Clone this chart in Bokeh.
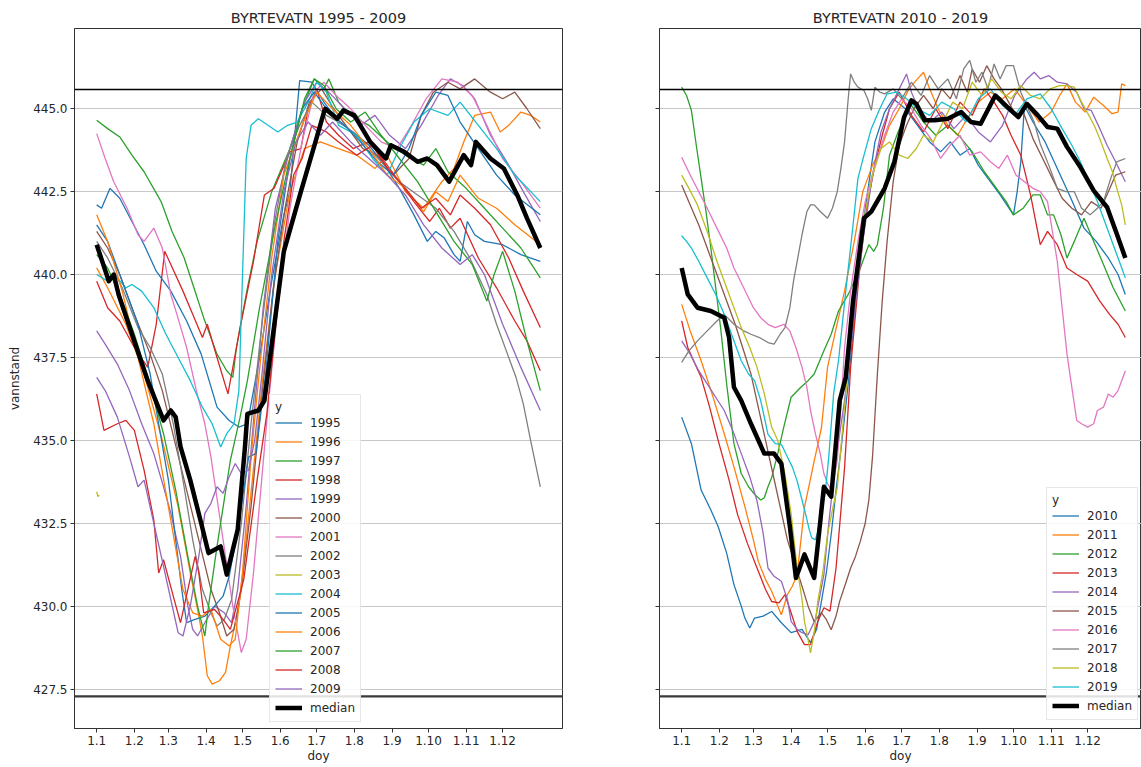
from bokeh.plotting import figure
from bokeh.layouts import row
from bokeh.models import Span, Legend, LegendItem, FixedTicker, Range1d, NumeralTickFormatter
from bokeh.embed import file_html
from bokeh.resources import INLINE

# ---------------- data (day of year, water level) ----------------
month_ticks = [1, 32, 60, 91, 121, 152, 182, 213, 244, 274, 305, 335]
month_labels = ["1.1", "1.2", "1.3", "1.4", "1.5", "1.6", "1.7", "1.8", "1.9", "1.10", "1.11", "1.12"]
y_ticks = [427.5, 430.0, 432.5, 435.0, 437.5, 440.0, 442.5, 445.0]
hrv = 445.58
lrv = 427.28

s1995 = [(1,442.1),(5,442.0),(12,442.6),(20,442.3),(30,441.6),(40,440.9),(50,440.1),(62,439.5),(75,438.6),(87,437.6),(100,436.0),(110,435.6),(118,435.4),(125,435.5),(135,437.5),(145,439.8),(155,441.8),(160,442.5),(164,444.2),(168,445.85),(178,445.8),(188,445.2),(200,444.6),(212,444.3),(225,443.9),(238,443.3),(250,442.6),(262,441.8),(273,441.0),(280,441.3),(287,441.1),(295,440.6),(300,440.4),(306,441.6),(312,441.2),(320,441.0),(335,440.9),(350,440.6),(366,440.4)]
s1996 = [(1,440.2),(10,439.6),(25,438.5),(40,437.0),(55,435.0),(68,433.0),(78,431.0),(84,429.9),(88,429.1),(92,427.9),(96,427.65),(102,427.75),(107,428.0),(111,428.8),(118,430.0),(124,432.0),(131,434.5),(138,437.0),(148,440.0),(160,442.5),(172,443.8),(185,444.0),(200,443.8),(215,443.6),(230,443.2),(240,443.6),(255,442.5),(270,442.0),(285,442.8),(295,443.2),(303,444.0),(312,444.8),(325,444.9),(333,444.3),(340,444.5),(350,444.9),(358,444.8),(366,444.6)]
s1997 = [(1,444.65),(10,444.4),(20,444.15),(30,443.6),(40,443.1),(54,442.2),(63,441.3),(73,440.5),(81,439.6),(89,438.7),(100,437.6),(108,437.1),(113,436.9),(116,437.8),(125,439.6),(133,441.0),(145,442.5),(160,443.8),(170,445.0),(180,445.9),(188,445.6),(192,445.9),(200,445.2),(210,444.8),(225,444.5),(240,444.0),(255,443.6),(270,443.3),(280,443.8),(290,443.1),(305,442.6),(320,442.0),(335,441.4),(350,440.8),(366,439.9)]
s1998 = [(1,439.8),(10,439.0),(20,438.6),(32,437.8),(43,437.2),(50,438.5),(57,440.7),(62,440.3),(72,439.5),(80,438.8),(88,438.1),(92,438.5),(100,437.5),(109,436.4),(112,437.0),(119,438.4),(130,440.4),(139,442.4),(147,442.6),(160,443.7),(169,443.8),(175,445.0),(182,445.6),(190,444.6),(200,444.2),(212,443.8),(225,444.0),(238,443.4),(250,442.8),(262,442.2),(275,441.6),(283,442.0),(292,441.4),(300,441.7),(315,440.5),(330,439.6),(345,438.6),(355,438.0),(366,437.1)]
s1999 = [(1,438.3),(8,437.9),(18,437.3),(28,436.5),(38,435.5),(48,434.6),(56,433.6),(62,432.8),(70,431.5),(76,430.0),(80,429.3),(84,429.1),(90,429.5),(98,430.0),(106,429.8),(112,429.5),(117,430.5),(124,433.0),(131,436.0),(138,439.0),(148,442.0),(160,443.8),(172,445.2),(182,445.8),(192,445.5),(205,445.0),(218,444.5),(230,444.8),(242,444.2),(255,443.8),(268,444.5),(282,445.4),(292,445.9),(302,445.7),(312,445.3),(325,444.2),(340,443.3),(352,442.5),(366,441.6)]
s2000 = [(1,441.3),(10,440.8),(20,440.0),(32,438.8),(45,437.6),(55,436.5),(65,435.0),(75,433.5),(85,432.0),(95,430.5),(102,429.8),(108,429.1),(114,429.3),(120,430.5),(128,433.0),(136,436.0),(146,439.5),(156,442.0),(166,444.0),(176,445.2),(186,445.6),(196,445.0),(208,444.4),(220,443.8),(232,443.6),(245,443.0),(258,443.5),(268,444.8),(278,445.5),(290,445.8),(300,445.6),(312,445.9),(325,445.5),(335,445.3),(345,445.5),(355,445.0),(366,444.4)]
s2001 = [(1,444.25),(8,443.5),(15,442.8),(26,442.0),(35,441.2),(40,441.0),(48,441.4),(55,440.8),(62,439.4),(67,438.8),(75,437.8),(83,436.5),(90,435.5),(95,434.5),(101,433.0),(107,431.5),(113,430.0),(120,428.6),(124,429.0),(130,431.0),(136,433.5),(142,436.0),(150,439.0),(160,442.0),(170,444.0),(180,445.5),(188,445.8),(198,445.4),(210,445.0),(222,444.5),(235,444.0),(248,443.8),(260,444.5),(272,445.3),(285,445.9),(298,445.8),(310,445.4),(322,444.5),(335,443.5),(350,442.8),(366,442.0)]
s2002 = [(1,441.0),(10,440.5),(22,439.6),(35,438.4),(45,437.8),(55,437.0),(64,435.5),(72,433.8),(80,432.0),(88,430.5),(95,429.8),(100,429.4),(106,429.6),(112,430.2),(120,432.5),(128,435.5),(137,438.5),(147,441.5),(157,443.5),(168,444.5),(178,445.2),(190,444.8),(205,444.5),(220,444.0),(235,443.4),(250,442.8),(265,442.4),(280,442.0),(295,441.3),(308,440.5),(322,439.4),(330,438.5),(339,437.6),(346,436.9),(352,436.1),(358,435.0),(366,433.6)]
s2003 = [(1,433.45),(2,433.3),(3,433.35)]
s2004 = [(1,440.0),(10,439.8),(18,439.9),(25,439.6),(30,439.7),(38,439.5),(48,439.0),(58,438.2),(68,437.5),(78,436.8),(88,436.0),(96,435.5),(103,434.8),(108,435.2),(114,435.5),(118,436.5),(121,440.0),(124,443.5),(128,444.5),(134,444.7),(142,444.5),(150,444.3),(158,444.5),(166,444.6),(175,445.2),(182,445.8),(190,445.5),(200,444.5),(215,444.2),(228,443.5),(240,443.0),(250,443.8),(262,444.6),(275,445.0),(290,444.8),(300,445.2),(315,444.5),(330,443.8),(345,443.0),(366,442.2)]
s2005 = [(1,441.5),(10,441.0),(22,439.8),(35,438.5),(45,437.0),(52,435.5),(60,433.8),(66,432.0),(71,430.5),(75,429.5),(82,429.6),(90,429.7),(98,430.0),(105,430.3),(110,430.9),(118,432.5),(126,434.5),(132,434.6),(140,437.0),(150,441.0),(160,443.5),(170,445.0),(180,445.5),(192,444.9),(205,444.5),(218,444.0),(232,443.4),(245,443.0),(258,443.8),(268,444.8),(280,445.5),(290,445.4),(300,444.6),(315,443.8),(330,443.0),(345,442.4),(366,441.8)]
s2006 = [(1,441.8),(10,441.0),(22,439.5),(35,437.5),(48,435.5),(60,433.0),(72,430.5),(80,429.8),(88,429.7),(95,429.9),(103,429.0),(110,428.8),(115,429.0),(121,431.0),(128,434.5),(136,437.5),(145,440.5),(155,443.0),(170,444.5),(182,445.5),(195,445.0),(210,444.5),(225,443.8),(240,443.0),(255,442.6),(270,441.9),(280,442.5),(290,442.2),(300,443.0),(315,442.3),(330,442.0),(345,441.5),(366,440.9)]
s2007 = [(1,440.6),(10,440.2),(20,439.4),(32,438.2),(44,436.8),(56,435.2),(66,433.5),(76,431.5),(84,430.0),(90,429.1),(93,430.0),(100,431.8),(111,434.4),(119,435.7),(125,436.8),(135,439.0),(148,441.5),(160,443.5),(172,445.3),(180,445.9),(188,445.7),(198,445.0),(210,444.6),(222,444.9),(235,444.2),(250,443.5),(265,442.8),(280,441.9),(295,441.0),(310,440.3),(322,439.2),(328,440.0),(335,440.7),(345,439.5),(355,438.0),(366,436.5)]
s2008 = [(1,436.4),(7,435.3),(18,435.5),(25,435.6),(32,435.3),(40,434.1),(48,432.6),(52,431.0),(56,431.4),(64,430.3),(70,429.5),(76,430.5),(82,431.5),(85,431.0),(89,429.8),(98,429.9),(105,429.6),(111,429.3),(122,430.8),(133,433.8),(141,435.8),(147,438.0),(155,441.0),(163,443.0),(170,443.5),(178,444.5),(190,444.3),(200,444.0),(215,443.6),(228,443.9),(240,443.2),(255,442.6),(268,442.0),(280,442.3),(292,441.8),(300,442.4),(312,442.0),(325,441.5),(340,440.5),(352,439.5),(366,438.4)]
s2009 = [(1,436.9),(8,436.5),(18,435.7),(28,434.5),(35,433.6),(40,433.8),(48,432.5),(56,431.2),(62,430.2),(68,429.2),(72,429.1),(78,430.0),(85,431.5),(90,432.8),(95,433.1),(100,433.6),(105,433.4),(110,433.9),(115,434.3),(120,434.0),(126,434.1),(131,435.0),(137,437.0),(145,440.0),(155,442.5),(165,444.0),(175,444.6),(185,444.2),(195,444.6),(210,444.0),(225,443.5),(240,443.0),(255,442.4),(270,441.5),(285,440.8),(300,440.3),(310,440.6),(320,440.0),(335,438.5),(350,437.2),(366,435.9)]
median_1995_2009 = [(1,440.9),(11,439.8),(15,440.0),(19,439.4),(43,436.8),(56,435.6),(62,435.9),(66,435.7),(70,434.8),(78,433.8),(87,432.5),(93,431.6),(103,431.8),(108,430.95),(117,432.3),(123,434.8),(125,435.8),(134,435.9),(139,436.2),(155,440.7),(169,442.5),(181,444.0),(188,444.9),(189,445.0),(199,444.7),(204,444.95),(213,444.8),(226,444.0),(239,443.5),(243,443.9),(254,443.7),(265,443.4),(273,443.5),(281,443.3),(291,442.8),(303,443.6),(309,443.3),(313,444.0),(325,443.5),(336,443.2),(347,442.4),(355,441.7),(366,440.8)]

s2010 = [(1,435.7),(5,435.3),(9,434.9),(17,433.5),(25,432.9),(31,432.4),(38,431.6),(44,430.65),(50,430.0),(53,429.64),(57,429.34),(61,429.64),(68,429.7),(75,429.84),(83,429.5),(91,429.2),(100,429.3),(107,428.9),(112,429.3),(116,430.15),(120,431.0),(124,432.16),(128,433.5),(132,434.7),(138,436.7),(145,439.5),(152,442.0),(160,444.0),(168,444.9),(175,445.3),(185,445.0),(195,444.5),(205,444.0),(214,443.7),(222,444.0),(230,443.6),(238,443.8),(245,443.3),(253,442.9),(263,442.4),(274,441.8),(277,442.5),(280,443.4),(283,445.1),(290,444.6),(300,444.0),(310,443.2),(320,442.4),(332,441.4),(342,441.0),(352,440.5),(360,440.0),(366,439.4)]
s2011 = [(1,439.1),(8,438.3),(17,437.4),(26,436.4),(36,435.2),(44,434.2),(53,433.0),(60,432.0),(64,431.35),(70,430.8),(75,430.45),(83,429.74),(88,430.35),(92,430.6),(96,430.95),(102,432.97),(110,434.37),(116,435.38),(121,437.2),(127,438.2),(135,439.5),(143,441.0),(150,442.5),(158,443.3),(165,443.8),(172,444.5),(180,445.0),(188,445.6),(195,445.9),(200,446.1),(205,445.6),(212,445.0),(220,444.5),(228,444.2),(236,444.7),(245,445.2),(255,445.5),(265,445.3),(275,445.6),(285,445.1),(295,444.6),(305,444.9),(312,445.4),(318,445.75),(325,445.2),(333,444.9),(340,445.35),(348,445.1),(355,444.85),(360,444.9),(363,445.75),(366,445.7)]
s2012 = [(1,445.65),(5,445.4),(9,444.95),(13,443.9),(17,442.9),(21,441.9),(25,440.8),(29,439.6),(33,438.4),(38,436.7),(44,434.9),(50,434.0),(56,433.6),(61,433.37),(66,433.2),(69,433.27),(72,433.6),(75,433.87),(80,434.6),(85,435.4),(91,436.3),(99,436.6),(105,436.8),(110,437.0),(118,437.7),(124,438.2),(130,438.9),(138,439.4),(148,440.2),(155,440.9),(159,440.7),(162,440.9),(167,442.0),(172,443.6),(179,444.3),(186,444.85),(190,445.1),(200,444.6),(210,444.2),(220,444.5),(230,444.15),(240,443.7),(250,443.1),(260,442.6),(268,442.2),(274,441.8),(282,442.0),(290,442.4),(296,442.4),(302,441.8),(307,441.8),(313,441.2),(318,440.5),(324,441.0),(332,441.7),(340,441.0),(348,440.3),(356,439.6),(366,438.9)]
s2013 = [(1,438.6),(6,437.8),(12,437.3),(17,436.9),(24,436.0),(31,435.0),(40,433.8),(47,432.76),(55,431.9),(63,431.15),(70,430.5),(75,430.14),(81,430.1),(86,430.35),(91,429.8),(96,429.24),(102,428.84),(107,428.84),(113,429.54),(118,429.95),(123,429.85),(128,431.15),(135,434.17),(140,437.2),(147,440.0),(153,442.0),(160,443.3),(166,444.2),(172,445.0),(180,445.5),(190,444.8),(200,444.3),(210,445.0),(220,444.4),(230,445.2),(240,444.8),(250,445.6),(258,445.2),(265,444.8),(272,444.2),(280,443.6),(288,442.4),(296,440.9),(302,441.3),(310,440.9),(318,440.2),(326,440.0),(335,439.8),(345,439.2),(353,438.8),(360,438.5),(366,438.1)]
s2014 = [(1,438.0),(8,437.6),(15,437.1),(22,436.7),(29,436.3),(36,435.9),(43,435.3),(50,434.6),(57,433.9),(63,433.17),(68,432.2),(72,431.15),(77,430.9),(83,430.75),(88,430.2),(91,429.54),(96,429.3),(100,429.2),(105,429.14),(111,429.6),(118,430.95),(122,432.5),(127,434.17),(131,435.2),(135,436.2),(142,438.5),(150,441.0),(158,443.0),(165,444.3),(172,445.0),(180,445.6),(186,446.05),(190,445.5),(196,445.0),(205,444.6),(215,444.9),(225,444.4),(235,444.8),(245,444.3),(255,444.0),(265,444.5),(275,445.4),(285,445.9),(291,446.1),(296,445.9),(303,446.0),(310,445.8),(318,445.75),(326,445.5),(332,445.0),(338,444.95),(345,444.4),(351,443.9),(358,443.4),(366,442.8)]
s2015 = [(1,442.7),(8,442.1),(15,441.5),(22,440.8),(30,440.0),(38,439.2),(45,438.5),(52,437.7),(58,437.0),(64,436.0),(70,435.0),(76,434.0),(82,433.0),(88,432.0),(94,431.3),(100,430.6),(105,430.0),(110,429.54),(116,429.8),(120,429.6),(124,429.29),(128,429.7),(131,430.15),(136,430.7),(140,431.15),(144,431.5),(148,431.96),(152,432.5),(155,433.2),(158,434.5),(162,437.0),(166,439.2),(170,441.0),(175,442.8),(180,443.9),(186,444.5),(192,445.0),(200,445.4),(208,445.0),(215,445.6),(222,445.3),(230,446.0),(236,445.5),(240,446.2),(246,445.8),(252,446.3),(258,445.9),(264,445.6),(270,445.2),(276,444.8),(282,444.9),(290,444.1),(298,443.5),(306,442.9),(314,442.3),(322,442.0),(330,441.8),(338,442.2),(346,442.0),(352,442.5),(358,443.0),(366,443.1)]
s2016 = [(1,443.54),(8,443.0),(15,442.5),(22,442.0),(30,441.4),(38,440.8),(44,440.2),(52,439.6),(60,439.0),(66,438.7),(72,438.5),(78,438.4),(85,438.5),(90,438.3),(95,437.8),(100,437.2),(104,436.6),(107,435.9),(111,435.2),(115,434.6),(118,434.0),(121,433.7),(124,433.5),(127,434.0),(129,434.4),(132,436.0),(135,437.8),(140,439.5),(146,441.0),(152,442.2),(160,443.3),(168,444.2),(175,444.9),(182,445.3),(190,445.0),(198,444.5),(206,444.1),(214,443.5),(222,443.9),(230,444.2),(238,443.6),(247,443.7),(255,443.4),(262,443.2),(269,443.6),(276,443.0),(283,442.8),(290,442.6),(296,442.5),(302,442.2),(306,441.3),(310,440.4),(314,439.0),(318,437.6),(322,436.6),(326,435.6),(330,435.5),(335,435.4),(340,435.5),(343,435.9),(348,436.0),(352,436.4),(356,436.3),(360,436.5),(363,436.8),(366,437.1)]
s2017 = [(1,437.35),(7,437.7),(14,438.0),(22,438.3),(30,438.6),(36,438.8),(44,438.5),(52,438.3),(58,438.2),(65,438.1),(72,437.95),(77,437.9),(82,438.2),(86,438.4),(90,439.0),(93,439.8),(96,440.4),(100,441.2),(104,441.9),(107,442.1),(110,442.1),(115,441.9),(121,441.7),(125,442.0),(129,442.5),(132,443.2),(135,444.0),(138,445.3),(140,446.05),(143,445.8),(146,445.65),(151,445.55),(154,445.3),(157,444.95),(160,445.65),(164,445.5),(168,445.45),(175,445.6),(182,445.3),(190,445.8),(198,445.4),(205,446.0),(212,445.6),(220,445.9),(227,445.3),(233,446.2),(238,446.46),(243,445.8),(248,446.1),(253,445.6),(258,446.35),(263,445.9),(268,446.3),(274,446.3),(280,445.5),(286,445.0),(291,444.6),(296,443.94),(303,443.3),(310,442.6),(317,442.5),(324,442.5),(330,442.0),(337,441.8),(343,442.0),(348,442.2),(354,442.9),(359,443.4),(366,443.5)]
s2018 = [(1,443.0),(7,442.6),(14,442.1),(22,441.3),(30,440.4),(40,439.4),(50,438.4),(57,437.8),(63,437.2),(69,436.4),(75,435.4),(80,435.0),(86,433.97),(91,432.8),(96,431.15),(100,430.2),(102,429.54),(105,429.0),(107,428.59),(110,429.2),(113,430.15),(117,431.0),(121,432.16),(125,432.9),(129,433.57),(135,436.0),(142,439.0),(150,441.5),(158,443.0),(165,443.8),(172,444.0),(180,443.6),(187,443.5),(194,443.8),(200,444.2),(208,444.0),(216,444.6),(224,445.2),(232,445.0),(240,445.8),(248,445.4),(256,445.9),(264,445.5),(272,445.3),(280,445.7),(288,445.4),(296,445.3),(304,445.6),(312,445.7),(318,445.7),(324,445.65),(330,445.2),(336,444.8),(341,444.45),(346,444.0),(351,443.5),(355,443.14),(359,442.6),(363,442.1),(366,441.5)]
s2019 = [(1,441.17),(5,441.0),(9,440.8),(15,440.4),(22,439.9),(29,439.4),(36,438.8),(43,438.1),(50,437.4),(56,437.0),(61,436.8),(66,436.2),(72,435.18),(78,434.9),(83,434.88),(88,434.5),(92,434.2),(96,433.77),(100,433.2),(103,432.77),(106,432.3),(108,432.06),(111,432.0),(113,432.26),(116,432.9),(119,433.37),(122,434.5),(126,436.4),(130,437.4),(136,439.5),(142,441.5),(146,442.9),(151,443.6),(157,444.4),(164,445.0),(170,445.45),(178,445.5),(186,445.3),(195,445.0),(205,444.8),(215,445.2),(225,445.0),(235,444.6),(245,445.3),(255,445.6),(265,445.1),(275,444.8),(285,445.3),(296,445.45),(305,445.0),(314,444.4),(322,443.9),(329,443.4),(336,442.8),(343,442.2),(350,441.5),(357,440.8),(362,440.3),(366,439.9)]
median_2010_2019 = [(1,440.2),(6,439.4),(14,439.0),(25,438.9),(36,438.7),(40,438.1),(44,436.6),(50,436.2),(58,435.5),(69,434.6),(77,434.6),(83,434.3),(90,432.4),(95,430.85),(102,431.56),(110,430.85),(114,432.2),(118,433.6),(124,433.3),(131,436.2),(136,436.9),(142,439.2),(151,441.7),(157,441.9),(168,442.6),(176,443.4),(184,444.75),(190,445.25),(194,445.15),(201,444.65),(209,444.65),(220,444.7),(231,444.9),(239,444.6),(247,444.55),(259,445.4),(269,445.05),(278,444.75),(285,445.15),(294,444.8),(302,444.45),(310,444.4),(318,443.85),(329,443.24),(340,442.53),(351,442.03),(359,441.22),(366,440.5)]

left_years = ["1995","1996","1997","1998","1999","2000","2001","2002","2003","2004","2005","2006","2007","2008","2009"]
left_series = [s1995,s1996,s1997,s1998,s1999,s2000,s2001,s2002,s2003,s2004,s2005,s2006,s2007,s2008,s2009]
right_years = ["2010","2011","2012","2013","2014","2015","2016","2017","2018","2019"]
right_series = [s2010,s2011,s2012,s2013,s2014,s2015,s2016,s2017,s2018,s2019]

tab10 = ["#1f77b4","#ff7f0e","#2ca02c","#d62728","#9467bd","#8c564b","#e377c2","#7f7f7f","#bcbd22","#17becf"]
FONT = "DejaVu Sans"
TXT = "#262626"


def make_fig(title, years, series, median, width, border_left, border_right, x_end, show_ylabels, legend_loc):
    p = figure(width=width, height=767, output_backend="svg", toolbar_location=None,
               x_range=Range1d(-17.25, x_end), y_range=Range1d(426.31, 447.42),
               min_border_left=border_left, min_border_right=border_right,
               min_border_top=28, min_border_bottom=39)
    p.title.text = title
    p.title.align = "center"
    p.title.text_font = FONT
    p.title.text_font_size = "14.5px"
    p.title.text_font_style = "normal"
    p.title.text_color = TXT
    p.title.offset = 0
    p.title.standoff = 5
    p.outline_line_color = "#333333"
    p.outline_line_width = 1
    p.background_fill_color = "white"
    p.border_fill_color = "white"

    p.xgrid.visible = False
    p.ygrid.grid_line_color = "#c8c8c8"
    p.ygrid.grid_line_width = 1

    xa = p.xaxis[0]
    xa.ticker = FixedTicker(ticks=month_ticks)
    xa.major_label_overrides = {t: l for t, l in zip(month_ticks, month_labels)}
    xa.axis_label = "doy"
    ya = p.yaxis[0]
    ya.ticker = FixedTicker(ticks=y_ticks)
    ya.formatter = NumeralTickFormatter(format="0.0")
    for ax in (xa, ya):
        ax.axis_line_color = "#333333"
        ax.major_tick_line_color = "#333333"
        ax.major_tick_out = 4
        ax.major_tick_in = 0
        ax.minor_tick_line_color = None
        ax.major_label_text_font = FONT
        ax.major_label_text_font_size = "12px"
        ax.major_label_text_color = TXT
        ax.major_label_standoff = 3
        ax.axis_label_text_font = FONT
        ax.axis_label_text_font_size = "12px"
        ax.axis_label_text_font_style = "normal"
        ax.axis_label_text_color = TXT
        ax.axis_label_standoff = 1
    if show_ylabels:
        ya.axis_label = "vannstand"
        ya.axis_label_standoff = 8
    else:
        ya.major_label_text_color = None
        ya.major_label_text_alpha = 0

    items = []
    for i, (yr, s) in enumerate(zip(years, series)):
        xs = [d for d, v in s]
        vs = [v for d, v in s]
        r = p.line(xs, vs, line_color=tab10[i % 10], line_width=1.3)
        items.append(LegendItem(label=yr, renderers=[r]))
    mx = [d for d, v in median]
    mv = [v for d, v in median]
    rm = p.line(mx, mv, line_color="black", line_width=4.5, line_join="round")
    items.append(LegendItem(label="median", renderers=[rm]))

    p.add_layout(Span(location=hrv, dimension="width", line_color="black", line_width=1.6))
    p.add_layout(Span(location=lrv, dimension="width", line_color="#3a3a3a", line_width=2.2))

    leg = Legend(items=items, title="y", location=legend_loc)
    leg.title_text_font = FONT
    leg.title_text_font_size = "12px"
    leg.title_text_font_style = "normal"
    leg.title_text_color = TXT
    leg.title_standoff = 0
    leg.label_text_font = FONT
    leg.label_text_font_size = "12px"
    leg.label_text_color = TXT
    leg.glyph_width = 27
    leg.glyph_height = 17
    leg.label_height = 17
    leg.spacing = 2
    leg.padding = 5
    leg.margin = 0
    leg.label_standoff = 8
    leg.border_line_color = "#d0d0d0"
    leg.background_fill_alpha = 0.85
    p.add_layout(leg)
    return p


p1 = make_fig("BYRTEVATN 1995 - 2009", left_years, left_series, median_1995_2009,
              600, 74, 38, 384.25, True, (195, 6))
p2 = make_fig("BYRTEVATN 2010 - 2019", right_years, right_series, median_2010_2019,
              541, 59, 0, 379.3, False, (387, 8))

layout = row(p1, p2)
open("out.html", "w").write(file_html(layout, INLINE))
